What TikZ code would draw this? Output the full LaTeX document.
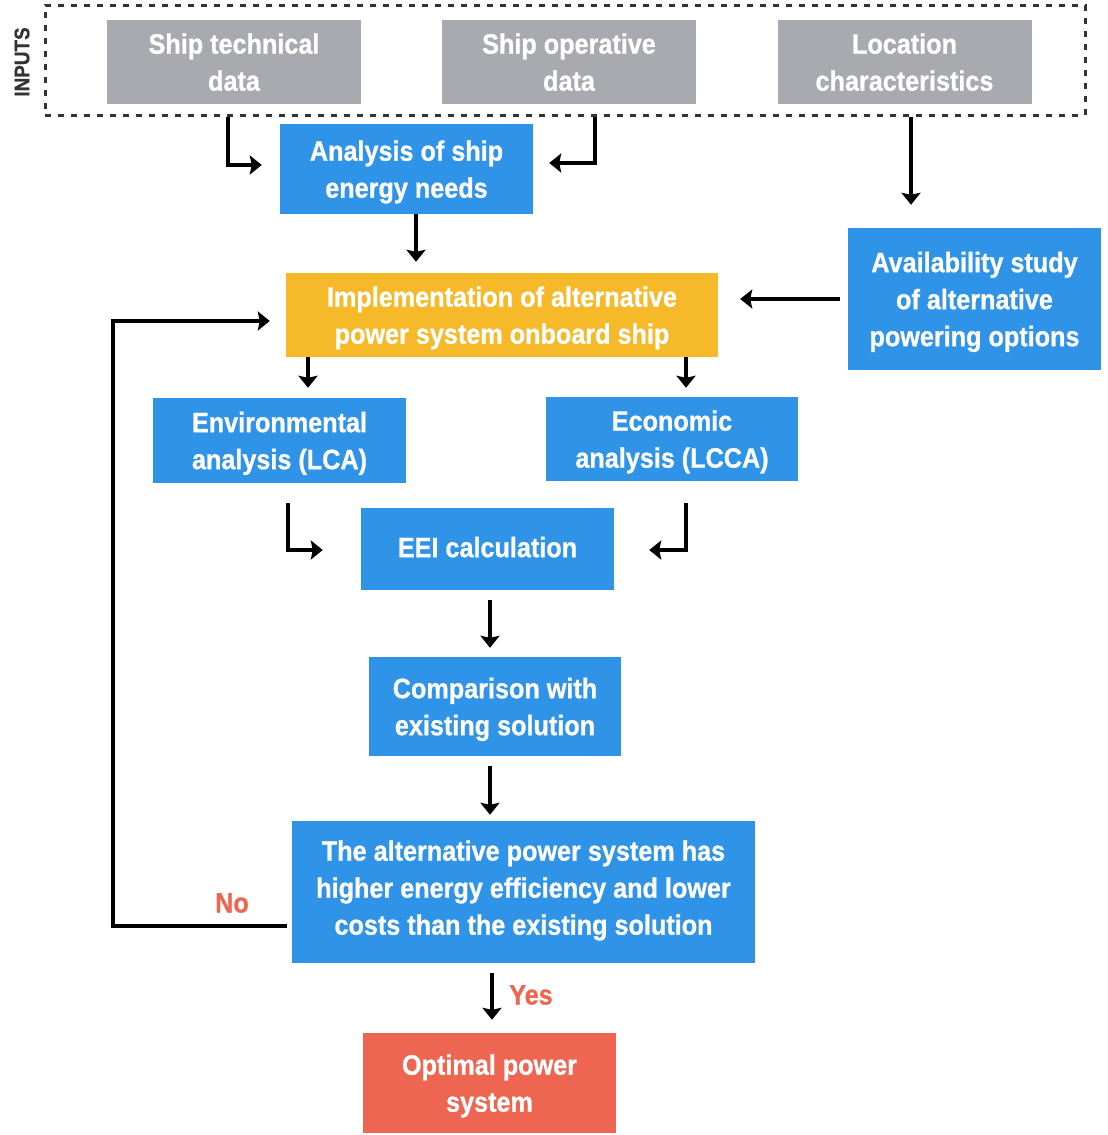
\documentclass[tikz,border=0pt]{standalone}
\usepackage{fontspec}
\setmainfont{Liberation Sans}[FakeStretch=0.9, BoldFeatures={FakeBold=0.8}]
\usetikzlibrary{arrows.meta}
\definecolor{bblue}{RGB}{47,147,232}
\definecolor{borange}{RGB}{245,185,42}
\definecolor{bgray}{RGB}{169,169,176}
\definecolor{bred}{RGB}{238,102,81}
\definecolor{darktxt}{RGB}{51,51,51}
\tikzset{
  box/.style={rectangle, draw=none, text=white, font=\fontsize{28}{37}\selectfont\bfseries, align=center, inner sep=0pt, text depth=0pt},
  bluebox/.style={box, fill=bblue},
  graybox/.style={box, fill=bgray, minimum width=254pt, minimum height=84pt},
  orangebox/.style={box, fill=borange},
  redbox/.style={box, fill=bred},
  arr/.style={line width=3.5pt, -{Stealth[width=19pt,length=12pt,inset=2pt]}},
  lbl/.style={text=bred, font=\fontsize{28}{32}\selectfont\bfseries, inner sep=0pt},
  dashbox/.style={draw=darktxt, line width=3pt, dash pattern=on 6pt off 7pt, inner sep=0pt}
}
\begin{document}
\begin{tikzpicture}[x=1pt,y=-1pt]
\useasboundingbox (0,0) rectangle (1108,1135);
\fill[white] (0,0) rectangle (1108,1135);
% inputs
\node[dashbox, minimum width=1040pt, minimum height=110pt] (inputs) at (565,60) {};
\node[rotate=90, text=darktxt, font=\fontsize{21}{24}\selectfont\bfseries, inner sep=0pt] (inlbl) at (22,62) {INPUTS};
\node[graybox] (tech) at (234,62) {Ship technical\\data};
\node[graybox] (oper) at (569,62) {Ship operative\\data};
\node[graybox] (loc) at (904.5,62) {Location\\characteristics};
% boxes
\node[bluebox, minimum width=253pt, minimum height=90pt] (ana) at (406.5,169) {Analysis of ship\\energy needs};
\node[orangebox, minimum width=432pt, minimum height=84pt] (impl) at (502,315) {Implementation of alternative\\power system onboard ship};
\node[bluebox, minimum width=253pt, minimum height=142pt] (avail) at (974.5,299) {Availability study\\of alternative\\powering options};
\node[bluebox, minimum width=253pt, minimum height=85pt] (env) at (279.5,440.5) {Environmental\\analysis (LCA)};
\node[bluebox, minimum width=252pt, minimum height=84pt] (econ) at (672,439) {Economic\\analysis (LCCA)};
\node[bluebox, minimum width=253pt, minimum height=82pt, text depth=4pt] (eei) at (487.5,549) {EEI calculation};
\node[bluebox, minimum width=252pt, minimum height=99pt] (comp) at (495,706.5) {Comparison with\\existing solution};
\node[bluebox, minimum width=463pt, minimum height=142pt, text depth=9pt] (dec) at (523.5,892) {The alternative power system has\\higher energy efficiency and lower\\costs than the existing solution};
\node[redbox, minimum width=253pt, minimum height=100pt] (opt) at (489.5,1083) {Optimal power\\system};
% labels
\node[lbl] (no) at (232,903) {No};
\node[lbl] (yes) at (531,995) {Yes};
% connectors
\draw[arr] ([xshift=-6pt]tech.south |- inputs.south) |- ([xshift=-18pt,yshift=4pt]ana.west);
\draw[arr] ([xshift=26pt]oper.south |- inputs.south) |- ([xshift=16pt,yshift=6pt]ana.east);
\draw[arr, shorten >=23pt] ([xshift=6.5pt]loc.south |- inputs.south) -- ([xshift=6.5pt]loc.south |- avail.north);
\draw[arr, shorten >=11pt] ([xshift=9.5pt]ana.south) -- ([xshift=9.5pt]ana.south |- impl.north);
\draw[arr, shorten <=8pt, shorten >=22pt] (avail.west) -- (avail.west -| impl.east);
\draw[arr, shorten >=10pt] ([xshift=28.5pt]env.north |- impl.south) -- ([xshift=28.5pt]env.north);
\draw[arr, shorten >=9pt] ([xshift=14pt]econ.north |- impl.south) -- ([xshift=14pt]econ.north);
\draw[arr, shorten <=20pt] ([xshift=8.5pt]env.south) |- ([xshift=-38pt,yshift=-1pt]eei.west);
\draw[arr, shorten <=22pt] ([xshift=14pt]econ.south) |- ([xshift=35pt,yshift=-1pt]eei.east);
\draw[arr, shorten <=10pt, shorten >=9pt] ([xshift=2.5pt]eei.south) -- ([xshift=2.5pt]eei.south |- comp.north);
\draw[arr, shorten <=10pt, shorten >=6pt] ([xshift=-5pt]comp.south) -- ([xshift=-5pt]comp.south |- dec.north);
\draw[arr, shorten <=10pt, shorten >=13pt] ([xshift=2.5pt]opt.north |- dec.south) -- ([xshift=2.5pt]opt.north);
\draw[arr] ([xshift=-5pt,yshift=-34pt]dec.west) -- ++(-174,0) |- ([xshift=-16pt,yshift=-6pt]impl.west);
\end{tikzpicture}
\end{document}
